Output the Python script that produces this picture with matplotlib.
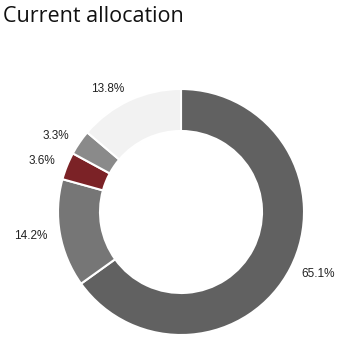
import matplotlib
matplotlib.use("Agg")
import matplotlib.pyplot as plt
import numpy as np

# allocation shares, clockwise from 12 o'clock
shares = [65.1, 14.2, 3.6, 3.3, 13.8]
labels = ['65.1%', '14.2%', '3.6%', '3.3%', '13.8%']
colors = ['#616161', '#767676', '#7b2226', '#8a8a8a', '#f2f2f2']

fig = plt.figure(figsize=(3.51, 3.52), dpi=100)
ax = fig.add_axes([0, 0, 1, 1])

# axes in pixel units so the ring can be placed like the original
cx, cy, r = 181, 140, 123
wedges, _ = ax.pie(shares, colors=colors, startangle=90, counterclock=False,
                   center=(cx, cy), radius=r,
                   wedgeprops=dict(width=42, edgecolor='white', linewidth=1.5))

# labels outside the ring, aligned away from the centre
for w, lab in zip(wedges, labels):
    mid = np.deg2rad((w.theta1 + w.theta2) / 2)
    x = cx + 1.1 * r * np.cos(mid)
    y = cy + 1.1 * r * np.sin(mid)
    ax.text(x, y, lab, ha='left' if x > cx else 'right', va='center',
            fontsize=8.5, color='#222222', family='Liberation Sans')

ax.set_xlim(0, 351)
ax.set_ylim(0, 352)
ax.set_aspect('equal')
ax.axis('off')

fig.text(3 / 351, 1 - 16 / 352, 'Current allocation', fontsize=15.5,
         family='Open Sans', color='#111111', ha='left', va='center')

fig.savefig('out.png', dpi=100)
